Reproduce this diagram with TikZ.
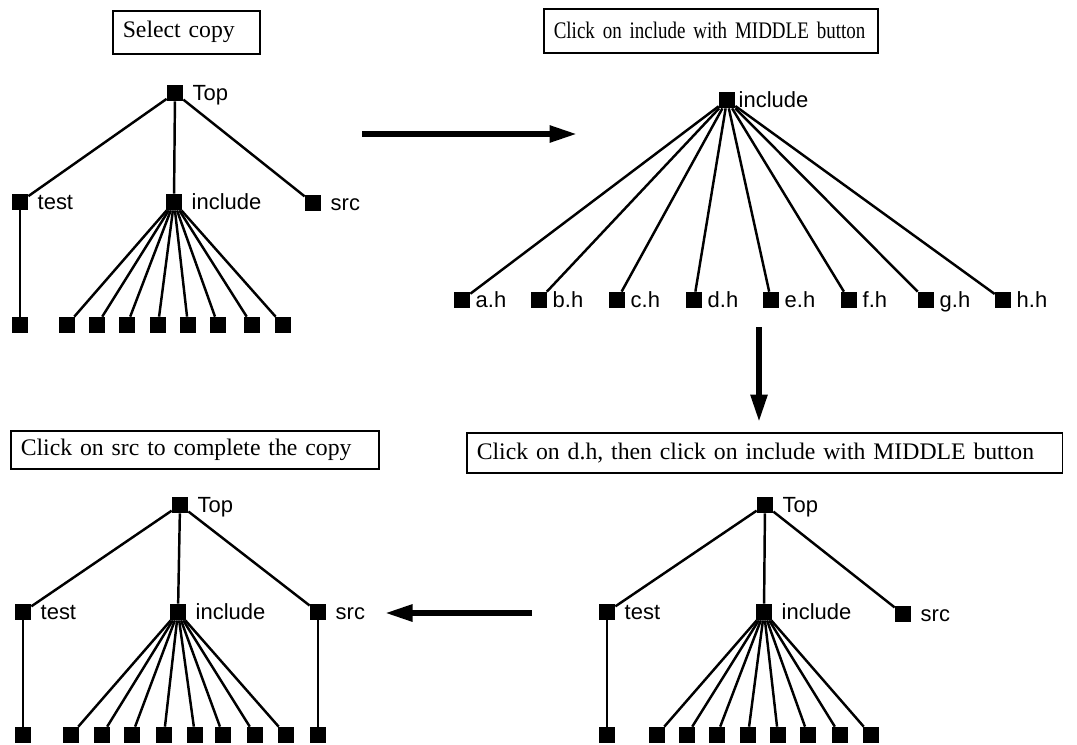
\documentclass[tikz,border=0pt]{standalone}
\usepackage{fontspec}
\setmainfont{Liberation Serif}
\newfontfamily\lblfont{Liberation Sans}
\usetikzlibrary{arrows.meta}

\tikzset{
  dir/.style={rectangle, fill=black, minimum size=0.32cm, inner sep=0pt},
  lbl/.style={font=\lblfont\fontsize{12.5}{14}\selectfont, inner sep=0pt,
    text height=8.6pt, text depth=0pt},
  edge/.style={line width=1.4pt},
  title/.style={draw, line width=0.9pt, anchor=north west, align=left,
    inner xsep=0.2cm, inner ysep=0pt, font=\fontsize{13.5}{16}\selectfont},
  bigarrow/.style={line width=3.2pt, -{Triangle[length=0.55cm, width=0.32cm]}}
}

\begin{document}
\begin{tikzpicture}[x=0.02cm, y=-0.02cm, label distance=0.18cm]
  \useasboundingbox (0,0) rectangle (1077,744);

  % step titles
  \node[title, text width=2.54cm, minimum height=0.86cm] (T1) at (112,10) {Select copy};
  \node[title, text width=6.28cm, minimum height=0.88cm] (T2) at (543,8)
    {\mbox{\addfontfeatures{FakeStretch=0.8}Click on include with MIDDLE button}};
  \node[title, text width=11.52cm, minimum height=0.80cm] (T3) at (466,432) {Click on d.h, then click on include with MIDDLE button};
  \node[title, text width=6.96cm, minimum height=0.76cm] (T4) at (10,430) {Click on src to complete the copy};

  % 1: whole tree
  \node[dir, label={[lbl]right:Top}] (Top1) at (175,93) {};
  \node[dir, label={[lbl]right:test}] (test1) at (20,202) {};
  \node[dir, label={[lbl]right:include}] (inc1) at (174,202) {};
  \node[dir, label={[lbl]right:src}] (src1) at (313,203) {};
  \node[dir] (tf1) at (20,325) {};
  \foreach \x [count=\i] in {67,97,127,158,188,218,252,283}
    \node[dir] (if1-\i) at (\x,325) {};

  \draw[edge] (Top1) -- (test1);
  \draw[edge] (Top1) -- (inc1);
  \draw[edge] (Top1) -- (src1);
  \draw[edge] (test1) -- (tf1);
  \foreach \i in {1,...,8}
    \draw[edge] (inc1) -- (if1-\i);

  % 2: include opened
  \node[dir, label={[lbl, label distance=0.06cm]right:include}] (inc2) at (727,100) {};
  \foreach \x/\n [count=\i] in {462/a,539/b,617/c,694/d,771/e,849/f,926/g,1003/h}
    \node[dir, label={[lbl, label distance=0.1cm]right:\n.h}] (hf2-\i) at (\x,300) {};
  \foreach \i in {1,...,8}
    \draw[edge] (inc2) -- (hf2-\i);

  % 3: back to the tree
  \node[dir, label={[lbl]right:Top}] (Top3) at (765,505) {};
  \node[dir, label={[lbl]right:test}] (test3) at (607,612) {};
  \node[dir, label={[lbl]right:include}] (inc3) at (764,612) {};
  \node[dir, label={[lbl]right:src}] (src3) at (903,614) {};
  \node[dir] (tf3) at (607,735) {};
  \foreach \x [count=\i] in {657,687,717,748,778,808,840,871}
    \node[dir] (if3-\i) at (\x,735) {};

  \draw[edge] (Top3) -- (test3);
  \draw[edge] (Top3) -- (inc3);
  \draw[edge] (Top3) -- (src3);
  \draw[edge] (test3) -- (tf3);
  \foreach \i in {1,...,8}
    \draw[edge] (inc3) -- (if3-\i);

  % 4: copy done
  \node[dir, label={[lbl]right:Top}] (Top4) at (180,505) {};
  \node[dir, label={[lbl]right:test}] (test4) at (23,612) {};
  \node[dir, label={[lbl]right:include}] (inc4) at (178,612) {};
  \node[dir, label={[lbl]right:src}] (src4) at (318,612) {};
  \node[dir] (tf4) at (23,735) {};
  \node[dir] (sf4) at (318,735) {};
  \foreach \x [count=\i] in {71,102,132,164,195,223,255,286}
    \node[dir] (if4-\i) at (\x,735) {};

  \draw[edge] (Top4) -- (test4);
  \draw[edge] (Top4) -- (inc4);
  \draw[edge] (Top4) -- (src4);
  \draw[edge] (test4) -- (tf4);
  \draw[edge] (src4) -- (sf4);
  \foreach \i in {1,...,8}
    \draw[edge] (inc4) -- (if4-\i);

  % arrows between the steps
  \coordinate (a1) at (362,134);
  \coordinate (a2) at (577,134);
  \coordinate (b1) at (759,327);
  \coordinate (b2) at (759,422);
  \coordinate (c1) at (532,613);
  \coordinate (c2) at (385,613);
  \draw[bigarrow] (a1) -- (a2);
  \draw[bigarrow] (b1) -- (b2);
  \draw[bigarrow] (c1) -- (c2);
\end{tikzpicture}
\end{document}
